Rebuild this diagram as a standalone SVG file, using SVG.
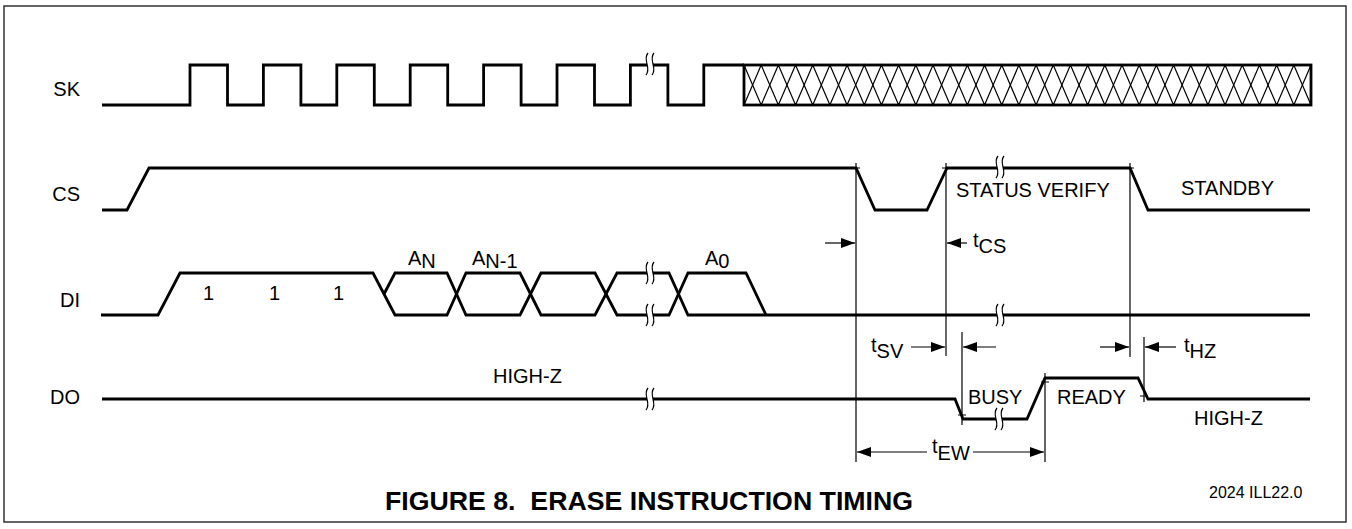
<svg xmlns="http://www.w3.org/2000/svg" xmlns:xlink="http://www.w3.org/1999/xlink" width="1352" height="529" viewBox="0 0 1352 529">
<style>
.sig{fill:none;stroke:#000;stroke-width:2.8;stroke-linejoin:miter;stroke-linecap:butt}
.thin{fill:none;stroke:#000;stroke-width:1.2}
.t{font-family:"Liberation Sans",Arial,sans-serif;font-size:20px;fill:#000}
.lbl{font-family:"Liberation Sans",Arial,sans-serif;font-size:20px;fill:#000;text-anchor:end}
.title{font-family:"Liberation Sans",Arial,sans-serif;font-size:26px;font-weight:bold;fill:#000}
.small{font-family:"Liberation Sans",Arial,sans-serif;font-size:16px;fill:#000}
</style>
<defs>
<marker id="ah" viewBox="0 0 14 10" refX="14" refY="5" markerWidth="14" markerHeight="10" markerUnits="userSpaceOnUse" orient="auto">
<path d="M0,0 L14,5 L0,10 Z" fill="#000"/>
</marker>
<g id="brk">
<path d="M-2,-11 C-8,-4 2,4 -4,11 L2,11 C8,4 -2,-4 4,-11 Z" fill="#fff" stroke="none"/>
<path d="M-2,-11 C-8,-4 2,4 -4,11 M4,-11 C-2,-4 8,4 2,11" fill="none" stroke="#000" stroke-width="1.2"/>
</g>
</defs>
<rect x="0" y="0" width="1352" height="529" fill="#fff"/>
<rect x="4" y="6" width="1342" height="516" fill="none" stroke="#333" stroke-width="1.5"/>

<g id="label-SK"><text class="lbl" x="80" y="96">SK</text></g>
<g id="label-CS"><text class="lbl" x="80" y="201">CS</text></g>
<g id="label-DI"><text class="lbl" x="80" y="307">DI</text></g>
<g id="label-DO"><text class="lbl" x="80" y="404">DO</text></g>

<g id="signal-SK">
<path class="sig" d="M102,105 H190 V65 H227.5 V105 H263.4 V65 H300.9 V105 H336.8 V65 H374.3 V105 H410.2 V65 H447.7 V105 H483.6 V65 H521.1 V105 H557 V65 H594.5 V105 H630.4 V65 H667.9 V105 H703.8 V65 H744"/>
<path class="thin" d="M744,65 L761.18,105 L778.36,65 L795.55,105 L812.73,65 L829.91,105 L847.09,65 L864.27,105 L881.45,65 L898.64,105 L915.82,65 L933,105 L950.18,65 L967.36,105 L984.55,65 L1001.73,105 L1018.91,65 L1036.09,105 L1053.27,65 L1070.45,105 L1087.64,65 L1104.82,105 L1122,65 L1139.18,105 L1156.36,65 L1173.55,105 L1190.73,65 L1207.91,105 L1225.09,65 L1242.27,105 L1259.45,65 L1276.64,105 L1293.82,65 L1311,105"/>
<path class="thin" d="M744,105 L761.18,65 L778.36,105 L795.55,65 L812.73,105 L829.91,65 L847.09,105 L864.27,65 L881.45,105 L898.64,65 L915.82,105 L933,65 L950.18,105 L967.36,65 L984.55,105 L1001.73,65 L1018.91,105 L1036.09,65 L1053.27,105 L1070.45,65 L1087.64,105 L1104.82,65 L1122,105 L1139.18,65 L1156.36,105 L1173.55,65 L1190.73,105 L1207.91,65 L1225.09,105 L1242.27,65 L1259.45,105 L1276.64,65 L1293.82,105 L1311,65"/>
<rect class="sig" x="744" y="65" width="567" height="40"/>
<use xlink:href="#brk" x="650" y="64"/>
</g>

<g id="signal-CS">
<path class="sig" d="M102,210 H127 L149,168 H856 L875,210 H927 L947,168 H1130 L1148,210 H1310"/>
<use xlink:href="#brk" x="1000" y="167"/>
<text class="t" x="956" y="197">STATUS VERIFY</text>
<text class="t" x="1181" y="195">STANDBY</text>
</g>

<g id="signal-DI">
<path class="sig" d="M101,315 H158 L180,273 H373 L395,315 H447 L466,273 H520 L541,315 H595 L617,273 H669 L688,315 H1310"/>
<path class="sig" d="M384,294 L395,273 H447 L466,315 H520 L541,273 H595 L617,315 H669 L688,273 H746 L766,315"/>
<use xlink:href="#brk" x="650" y="273"/>
<use xlink:href="#brk" x="650" y="315"/>
<use xlink:href="#brk" x="1000" y="315"/>
<text class="t" x="203" y="300">1</text>
<text class="t" x="269" y="300">1</text>
<text class="t" x="333" y="300">1</text>
<text class="t" x="408" y="265">A<tspan dy="3">N</tspan></text>
<text class="t" x="472" y="265">A<tspan dy="3">N-1</tspan></text>
<text class="t" x="705" y="265">A<tspan dy="3">0</tspan></text>
</g>

<g id="signal-DO">
<path class="sig" d="M102,399 H955 L963,419 H1027 L1045,378 H1138 L1148,399 H1310"/>
<use xlink:href="#brk" x="650" y="399"/>
<use xlink:href="#brk" x="999" y="419"/>
<text class="t" x="493" y="383">HIGH-Z</text>
<text class="t" x="968" y="404">BUSY</text>
<text class="t" x="1057" y="404">READY</text>
<text class="t" x="1194" y="425">HIGH-Z</text>
</g>

<g id="connectors">
<path class="thin" d="M856,163 V462 M946,163 V356 M1130,163 V357 M962,332 V425 M1045,373 V462 M1144,337 V402"/>
<path class="thin" d="M852,168 H860 M942,168 H950 M1126,168 H1134 M958,415 H966 M1041,382 H1049 M1140,396 H1148"/>
<line class="thin" x1="825" y1="243" x2="855" y2="243" marker-end="url(#ah)"/>
<line class="thin" x1="967" y1="243" x2="947" y2="243" marker-end="url(#ah)"/>
<line class="thin" x1="911" y1="347" x2="945" y2="347" marker-end="url(#ah)"/>
<line class="thin" x1="996" y1="347" x2="963" y2="347" marker-end="url(#ah)"/>
<line class="thin" x1="1100" y1="347" x2="1129" y2="347" marker-end="url(#ah)"/>
<line class="thin" x1="1176" y1="347" x2="1145" y2="347" marker-end="url(#ah)"/>
<line class="thin" x1="927" y1="452" x2="857" y2="452" marker-end="url(#ah)"/>
<line class="thin" x1="973" y1="452" x2="1044" y2="452" marker-end="url(#ah)"/>
</g>

<g id="timing-labels">
<text class="t" x="973" y="247">t<tspan dy="6">CS</tspan></text>
<text class="t" x="871" y="352">t<tspan dy="6">SV</tspan></text>
<text class="t" x="1184" y="352">t<tspan dy="6">HZ</tspan></text>
<text class="t" x="932" y="453">t<tspan dy="7">EW</tspan></text>
</g>

<g id="caption">
<text class="title" x="385" y="510" textLength="528" lengthAdjust="spacingAndGlyphs">FIGURE 8.&#160; ERASE INSTRUCTION TIMING</text>
<text class="small" x="1209" y="498">2024 ILL22.0</text>
</g>
</svg>
